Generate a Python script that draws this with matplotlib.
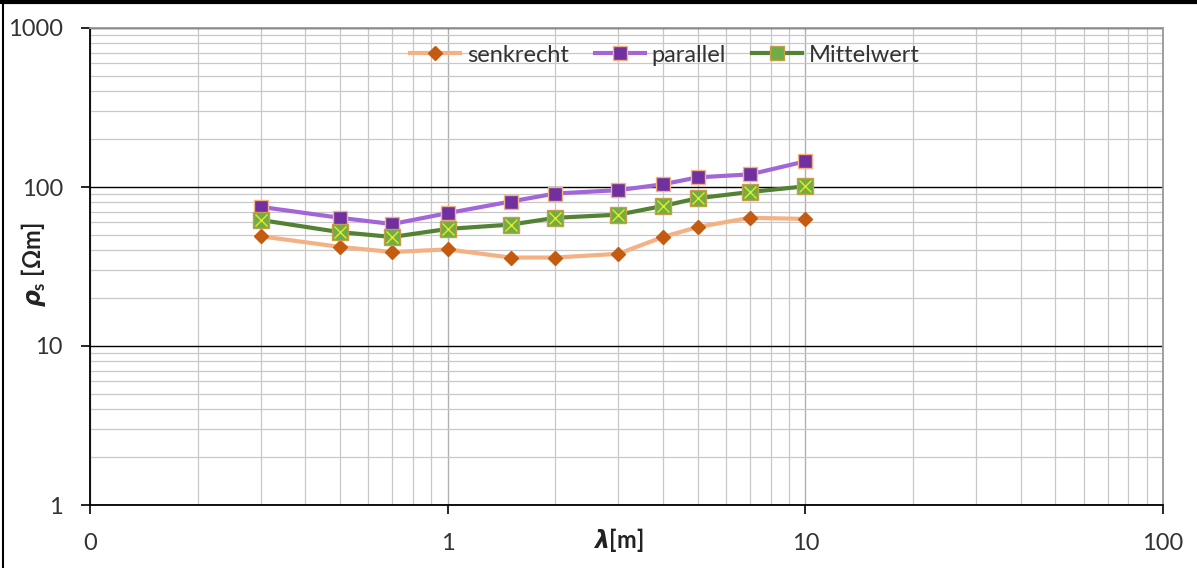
import matplotlib
matplotlib.use("Agg")
import matplotlib.pyplot as plt
from matplotlib.ticker import FixedLocator, NullFormatter, LogLocator
from matplotlib.lines import Line2D

# wavelength lambda [m]
lam = [0.3, 0.5, 0.7, 1, 1.5, 2, 3, 4, 5, 7, 10]

# apparent resistivity rho_s [Ohm m]
senkrecht = [49, 42, 39, 40.5, 36, 36, 38, 48.5, 56, 64, 63]
parallel = [75, 64, 58.5, 68.5, 81, 91, 95.5, 104, 115, 120, 145]
mittelwert = [62, 52, 48.5, 54.5, 58, 64, 67, 76, 85, 93, 101]

x_ticks = [0.1, 1, 10, 100]
x_labels = ['0', '1', '10', '100']
y_ticks = [1, 10, 100, 1000]
y_labels = ['1', '10', '100', '1000']

plt.rcParams['font.family'] = ['Lato', 'DejaVu Sans']
plt.rcParams['mathtext.fontset'] = 'custom'
plt.rcParams['mathtext.rm'] = 'Lato:bold'
plt.rcParams['mathtext.it'] = 'DejaVu Sans:italic:bold'
plt.rcParams['mathtext.bf'] = 'DejaVu Sans:bold'

fig = plt.figure(figsize=(11.97, 5.68), dpi=100)
ax = fig.add_axes([90 / 1197, 63 / 568, 1073 / 1197, 477 / 568])

ax.set_xscale('log')
ax.set_yscale('log')
ax.set_xlim(0.1, 100)
ax.set_ylim(1, 1000)

# grid, Excel style
ax.xaxis.set_minor_locator(LogLocator(base=10, subs=range(2, 10)))
ax.yaxis.set_minor_locator(LogLocator(base=10, subs=range(2, 10)))
ax.grid(which='minor', axis='both', color='#c8c8c8', linewidth=0.9)
ax.grid(which='major', axis='x', color='#b0b0b0', linewidth=1.0)
ax.grid(which='major', axis='y', color='#000000', linewidth=1.0)
ax.set_axisbelow(True)

ax.plot(lam, senkrecht, color='#f4b183', linewidth=3, marker='D', markersize=7,
        markerfacecolor='#c55a11', markeredgecolor='#c55a11', zorder=3)
ax.plot(lam, parallel, color='#a366d9', linewidth=3, marker='s', markersize=10,
        markerfacecolor='#7030a0', markeredgecolor='#f4b183', markeredgewidth=1, zorder=4)
ax.plot(lam, mittelwert, color='#548235', linewidth=3, marker='s', markersize=11,
        markerfacecolor='#70ad47', markeredgecolor='#c5a04a', markeredgewidth=1, zorder=5)
ax.plot(lam, mittelwert, linestyle='none', marker='x', markersize=8, markeredgewidth=1,
        color='#e8e820', zorder=6)

ax.xaxis.set_major_locator(FixedLocator(x_ticks))
ax.set_xticklabels(x_labels)
ax.xaxis.set_minor_formatter(NullFormatter())
ax.yaxis.set_major_locator(FixedLocator(y_ticks))
ax.set_yticklabels(y_labels)
ax.yaxis.set_minor_formatter(NullFormatter())

ax.tick_params(which='major', direction='out', length=6.5, width=1.2, color='black',
               labelsize=17, labelcolor='#333333')
ax.tick_params(axis='y', which='major', pad=13)
ax.tick_params(axis='x', which='major', pad=14)
ax.tick_params(which='minor', length=0)

for side in ['left', 'bottom']:
    ax.spines[side].set_color('black')
    ax.spines[side].set_linewidth(1.3)
ax.spines['top'].set_color('#999999')
ax.spines['top'].set_linewidth(1.3)
ax.spines['right'].set_color('#999999')
ax.spines['right'].set_linewidth(1.3)

ax.set_xlabel(r'$\lambda$[m]', fontsize=17, fontweight='bold', color='#222222')
ax.xaxis.set_label_coords((618 - 90) / 1073, -(540 - 505) / 477)
ax.xaxis.label.set_va('center')
ax.set_ylabel(r'$\rho_{\mathrm{s}}$ [Ωm]', fontsize=17, fontweight='bold', color='#222222')
ax.yaxis.set_label_coords(-(90 - 33) / 1073, (505 - 265) / 477)
ax.yaxis.label.set_va('center')

handles = [
    Line2D([], [], color='#f4b183', linewidth=3, marker='D', markersize=7,
           markerfacecolor='#c55a11', markeredgecolor='#c55a11'),
    Line2D([], [], color='#a366d9', linewidth=3, marker='s', markersize=10,
           markerfacecolor='#7030a0', markeredgecolor='#f4b183'),
    Line2D([], [], color='#548235', linewidth=3, marker='s', markersize=10,
           markerfacecolor='#70ad47', markeredgecolor='#c5a04a'),
]
leg = ax.legend(handles, ['senkrecht', 'parallel', 'Mittelwert'], loc='center',
                bbox_to_anchor=((665 - 90) / 1073, (505 - 55) / 477), ncol=3, frameon=False,
                fontsize=17, handlelength=2.1, columnspacing=1.1, handletextpad=0.3)
for t in leg.get_texts():
    t.set_color('#333333')

# outer frame (left and top edge)
fig.add_artist(Line2D([3 / 1197, 3 / 1197], [0, 1], transform=fig.transFigure,
                      color='black', linewidth=1.5))
fig.add_artist(Line2D([0, 1], [566 / 568, 566 / 568], transform=fig.transFigure,
                      color='black', linewidth=3))

fig.savefig('out.png', dpi=100)
